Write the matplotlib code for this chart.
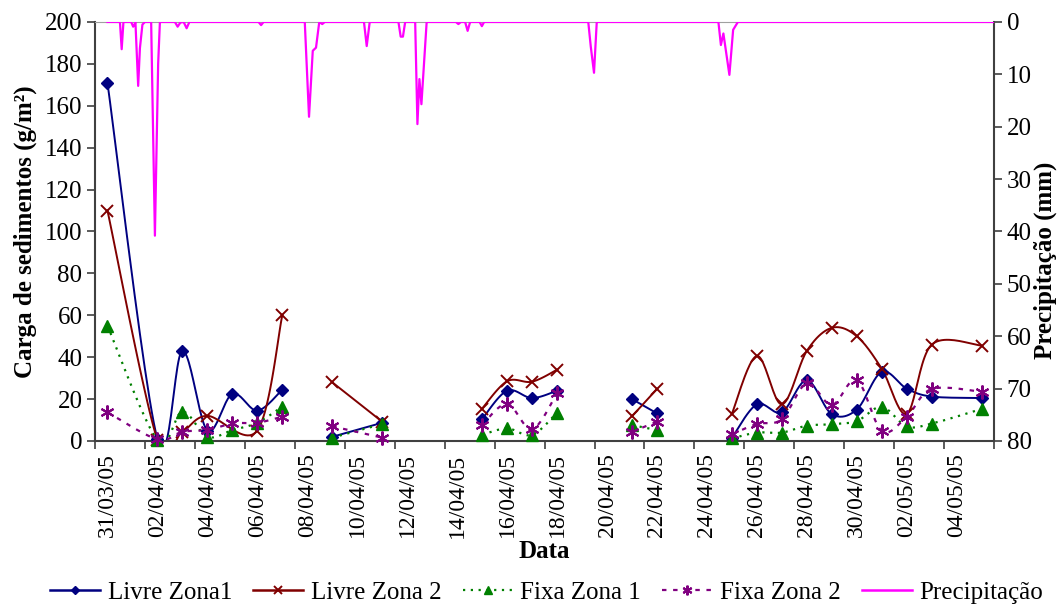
import numpy as np
import matplotlib

matplotlib.use("Agg")
import matplotlib.pyplot as plt
from matplotlib.lines import Line2D

plt.rcParams["font.family"] = ["Liberation Serif", "DejaVu Serif"]

# dias contados a partir de 31/03/05 (posicao de categoria)
dias = [0, 2, 3, 4, 5, 6, 7, 9, 11, 15, 16, 17, 18, 21, 22,
        25, 26, 27, 28, 29, 30, 31, 32, 33, 35]
# a linha e interrompida antes destes dias
quebras = [9, 15, 21, 25]

livre_z1 = [171, 1, 43, 5, 22.5, 14.5, 24.5, 2, 8.7, 10.5, 24, 20.5, 24, 20, 13.2,
            1.5, 17.5, 13.7, 29, 12.8, 15, 33, 25, 21.2, 20.5]
livre_z2 = [110, 0.5, 4.5, 12, np.nan, 5, 60, 28, 9.2, 15.5, 28.5, 28.3, 34, 11.8, 24.8,
            13, 40.6, 17.5, 43, 54, 50, 34.5, 13, 46, 45.5]
fixa_z1 = [55, 0.5, 14, 2, 5.2, 8.7, 16.4, 1.6, 8.1, 2.9, 6, 2.9, 13.5, 7.6, 5.2,
           1.2, 4, 4, 7.3, 8, 9.5, 16.3, 7, 8.3, 15.3]
fixa_z2 = [13.7, 0.8, 4.4, 5.2, 8.4, 8.7, 11.6, 7, 1.6, 7.6, 17.7, 5.6, 22.8, 4.4, 9.2,
           3.2, 8.1, 10.4, 27.5, 17.2, 29.1, 4.8, 11.6, 24.8, 23.5]

# precipitacao (mm), tempo em dias fracionarios
precip_t = [0.0, 0.50, 0.57, 0.64, 0.95, 1.03, 1.10, 1.12, 1.23, 1.30, 1.40, 1.50,
            1.75, 1.90, 2.03, 2.10, 2.70, 2.81, 2.92, 3.05, 3.17, 3.28,
            6.05, 6.15, 6.25, 7.90, 8.07, 8.22, 8.35, 8.48, 8.60, 8.70,
            10.27, 10.38, 10.50, 11.65, 11.74, 11.83, 11.92,
            12.32, 12.41, 12.49, 12.57, 12.78,
            13.95, 14.05, 14.15, 14.32, 14.42, 14.52, 14.90, 14.99, 15.08,
            19.25, 19.35, 19.48, 19.59,
            24.46, 24.56, 24.66, 24.90, 25.05, 25.24, 35.45]
precip_mm = [0, 0, 5.2, 0, 0, 0.9, 0.3, 0, 12.2, 5, 0.5, 0,
             0, 40.8, 8, 0, 0, 0.9, 0.1, 0, 1.2, 0,
             0, 0.6, 0, 0, 18.1, 5.5, 4.9, 0, 0.4, 0,
             0, 4.6, 0, 0, 2.8, 2.8, 0,
             0, 19.5, 10.9, 15.7, 0,
             0, 0.4, 0, 0, 1.7, 0, 0, 0.8, 0,
             0, 4.7, 9.7, 0,
             0, 4.4, 2.2, 10.1, 1.5, 0, 0]

rotulos = ["31/03/05", "02/04/05", "04/04/05", "06/04/05", "08/04/05", "10/04/05",
           "12/04/05", "14/04/05", "16/04/05", "18/04/05", "20/04/05", "22/04/05",
           "24/04/05", "26/04/05", "28/04/05", "30/04/05", "02/05/05", "04/05/05"]


def suaviza(x, y, n=24):
    """Curva suavizada tipo Excel (Bezier com tangentes de Catmull-Rom)."""
    p = np.column_stack([x, y]).astype(float)
    if len(p) < 2:
        return p[:, 0], p[:, 1]
    p = np.vstack([p[0], p, p[-1]])
    t = np.linspace(0, 1, n)[:, None]
    out = []
    for i in range(1, len(p) - 2):
        p0, p1, p2, p3 = p[i - 1], p[i], p[i + 1], p[i + 2]
        c1 = p1 + (p2 - p0) / 6
        c2 = p2 - (p3 - p1) / 6
        seg = (1 - t) ** 3 * p1 + 3 * (1 - t) ** 2 * t * c1 + 3 * (1 - t) * t ** 2 * c2 + t ** 3 * p2
        out.append(seg if i == 1 else seg[1:])
    s = np.vstack(out)
    return s[:, 0], s[:, 1]


def segmentos(valores):
    d = np.array(dias, dtype=float)
    v = np.array(valores, dtype=float)
    limites = [0] + [dias.index(q) for q in quebras] + [len(dias)]
    for a, b in zip(limites[:-1], limites[1:]):
        dd, vv = d[a:b], v[a:b]
        ok = ~np.isnan(vv)
        yield dd[ok], vv[ok]


series = [
    ("Livre Zona1", livre_z1, "#000080", "-", "D", dict(ms=6, mew=1)),
    ("Livre Zona 2", livre_z2, "#800000", "-", "x", dict(ms=9, mew=1.4)),
    ("Fixa Zona 1", fixa_z1, "#008000", (0, (1, 2.5)), "^", dict(ms=8, mew=1)),
    ("Fixa Zona 2", fixa_z2, "#800080", (0, (2, 3)), (6, 2, 0), dict(ms=10, mew=1.5)),
]

fig = plt.figure(figsize=(10.61, 6.07), dpi=100)
ax = fig.add_axes([0.0895, 0.2735, 0.8475, 0.6903])

handles = []
for nome, vals, cor, ls, mk, mkw in series:
    for dd, vv in segmentos(vals):
        sx, sy = suaviza(dd, vv)
        ax.plot(sx, sy, color=cor, ls=ls, lw=1.6 if ls != "-" else 1.4, zorder=2)
        ax.plot(dd, vv, ls="none", marker=mk, color=cor, mec=cor, clip_on=False, zorder=3, **mkw)
    handles.append(Line2D([], [], color=cor, ls=ls, lw=1.6 if ls != "-" else 1.8,
                          marker=mk, mec=cor, ms=mkw["ms"] * 0.7, mew=mkw["mew"]))

ax.set_xlim(-0.5, 35.5)
ax.set_ylim(0, 200)
ax.set_yticks(np.arange(0, 201, 20))
ax.set_xticks(np.arange(0, 35, 2))
ax.set_xticklabels(rotulos, rotation=90)
ax.set_xticks(np.arange(-0.5, 36, 2), minor=True)
ax.tick_params(axis="x", which="major", length=0, pad=9, labelsize=17)
ax.tick_params(axis="x", which="minor", length=6, width=1.2, color="#404040")
ax.tick_params(axis="y", length=6, width=1.2, color="#404040", labelsize=18, pad=3)
ax.set_xlabel("Data", fontsize=18, fontweight="bold", labelpad=2)
ax.set_ylabel("Carga de sedimentos (g/m\u00b2)", fontsize=18, fontweight="bold", labelpad=6)
for lado in ["left", "bottom", "right"]:
    ax.spines[lado].set_color("#404040")
    ax.spines[lado].set_linewidth(1.5)
ax.spines["top"].set_color("#a0a0a0")

ax2 = ax.twinx()
ax2.plot(precip_t, precip_mm, color="#ff00ff", lw=1.6)
ax2.set_ylim(80, 0)
ax2.set_yticks(np.arange(0, 81, 10))
ax2.tick_params(axis="y", length=6, width=1.2, color="#404040", labelsize=18, pad=3)
ax2.set_ylabel("Precipita\u00e7\u00e3o (mm)", fontsize=18, fontweight="bold")
ax2.yaxis.set_label_coords(1.044, 0.43)
for lado in ax2.spines:
    ax2.spines[lado].set_visible(False)

handles.append(Line2D([], [], color="#ff00ff", lw=1.8))
nomes = [s[0] for s in series] + ["Precipita\u00e7\u00e3o"]
fig.legend(handles, nomes, loc="center", bbox_to_anchor=(0.515, 0.024), ncol=5,
           frameon=False, fontsize=18, handlelength=2.0, handletextpad=0.3, columnspacing=0.85)

fig.savefig("out.png", dpi=100)
